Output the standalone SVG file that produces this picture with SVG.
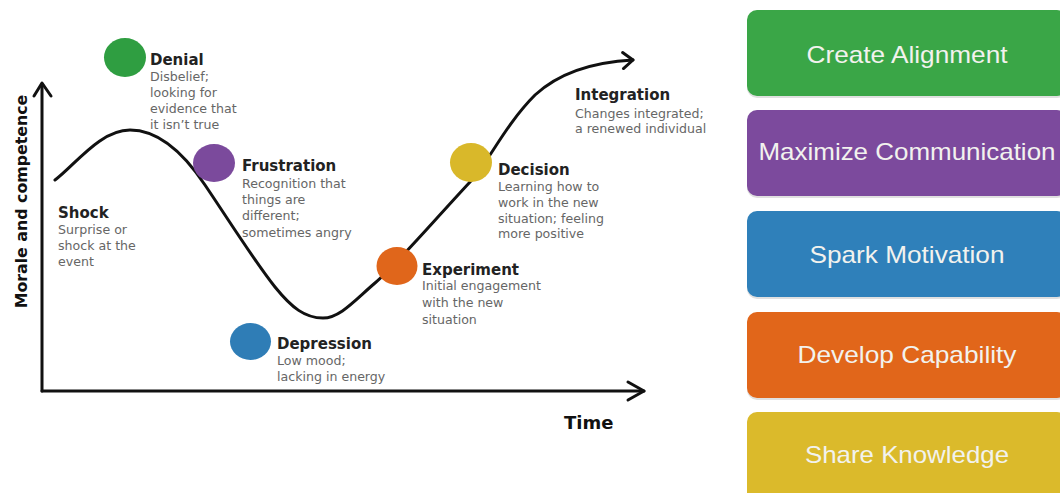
<svg xmlns="http://www.w3.org/2000/svg" width="1060" height="493" viewBox="0 0 1060 493">
<defs>
<style>
.title{font-family:"DejaVu Sans",sans-serif;font-weight:bold;font-size:15px;fill:#222}
.desc{font-family:"DejaVu Sans",sans-serif;font-size:12.6px;fill:#666}
.axislbl{font-family:"DejaVu Sans",sans-serif;font-weight:bold;fill:#111}
.line{fill:none;stroke:#111;stroke-width:3;stroke-linecap:round;stroke-linejoin:round}
.box text{font-family:"Liberation Sans",Arial,sans-serif;font-size:24px;fill:#f2f2ee;text-anchor:middle}
.shadow{fill:#000;opacity:0.12}
</style>
<marker id="chev" markerUnits="userSpaceOnUse" markerWidth="20" markerHeight="20" viewBox="0 0 20 20" refX="16" refY="10" orient="auto">
<path d="M6,2 L16,10 L6,18" fill="none" stroke="#111" stroke-width="3" stroke-linecap="round" stroke-linejoin="round"/>
</marker>
</defs>
<rect width="1060" height="493" fill="#fff"/>

<g id="axes">
<path class="line" d="M42,391 V84"/>
<path class="line" d="M34,96 L42,83 L51,96"/>
<path class="line" d="M42,391 H644"/>
<path class="line" d="M628,382 L644,391 L628,400"/>
<text class="axislbl" font-size="15.8" text-anchor="middle" transform="translate(27,201.5) rotate(-90)">Morale and competence</text>
<text class="axislbl" x="564" y="429" font-size="18">Time</text>
</g>

<g id="connectors">
<path class="line" marker-end="url(#chev)" d="M55,180 C75,165 100,130 130,130 C160,130 185,155 205,185 C230,222 255,262 275,287 C292,308 305,318 323,318 C340,318 355,300 375,283 C395,266 430,225 470,182 C488,163 505,125 535,95 C560,72 595,62 633,60"/>
</g>

<g id="shock">
<text class="title" x="58" y="218">Shock</text>
<text class="desc" x="58" y="234">Surprise or</text>
<text class="desc" x="58" y="250">shock at the</text>
<text class="desc" x="58" y="266">event</text>
</g>

<g id="denial">
<ellipse cx="125" cy="57.5" rx="21" ry="19.5" fill="#2f9e41"/>
<text class="title" x="150" y="65">Denial</text>
<text class="desc" x="150" y="81">Disbelief;</text>
<text class="desc" x="150" y="97">looking for</text>
<text class="desc" x="150" y="113">evidence that</text>
<text class="desc" x="150" y="129">it isn’t true</text>
</g>

<g id="frustration">
<ellipse cx="214" cy="163" rx="21" ry="19" fill="#7b4a9c"/>
<text class="title" x="242" y="171">Frustration</text>
<text class="desc" x="242" y="188">Recognition that</text>
<text class="desc" x="242" y="204">things are</text>
<text class="desc" x="242" y="220">different;</text>
<text class="desc" x="242" y="237">sometimes angry</text>
</g>

<g id="depression">
<ellipse cx="250.5" cy="341.5" rx="20.5" ry="18.5" fill="#2f7db6"/>
<text class="title" x="277" y="349">Depression</text>
<text class="desc" x="277" y="365">Low mood;</text>
<text class="desc" x="277" y="381">lacking in energy</text>
</g>

<g id="experiment">
<ellipse cx="397" cy="266" rx="20.5" ry="19" fill="#e0661b"/>
<text class="title" x="422" y="275">Experiment</text>
<text class="desc" x="422" y="290">Initial engagement</text>
<text class="desc" x="422" y="307">with the new</text>
<text class="desc" x="422" y="324">situation</text>
</g>

<g id="decision">
<ellipse cx="471" cy="162.5" rx="21" ry="19.5" fill="#d9b82a"/>
<text class="title" x="498" y="175">Decision</text>
<text class="desc" x="498" y="191">Learning how to</text>
<text class="desc" x="498" y="207">work in the new</text>
<text class="desc" x="498" y="222.5">situation; feeling</text>
<text class="desc" x="498" y="238">more positive</text>
</g>

<g id="integration">
<text class="title" x="575" y="100">Integration</text>
<text class="desc" x="575" y="117.5">Changes integrated;</text>
<text class="desc" x="575" y="133">a renewed individual</text>
</g>

<g id="box-alignment" class="box">
<rect class="shadow" x="747" y="12" width="320" height="86" rx="10"/>
<rect x="747" y="10" width="320" height="86" rx="10" fill="#3aa647"/>
<text x="907" y="63" textLength="201" lengthAdjust="spacingAndGlyphs">Create Alignment</text>
</g>
<g id="box-communication" class="box">
<rect class="shadow" x="747" y="112" width="320" height="86" rx="10"/>
<rect x="747" y="110" width="320" height="86" rx="10" fill="#7c4a9d"/>
<text x="907" y="160" textLength="297" lengthAdjust="spacingAndGlyphs">Maximize Communication</text>
</g>
<g id="box-motivation" class="box">
<rect class="shadow" x="747" y="213" width="320" height="86" rx="10"/>
<rect x="747" y="211" width="320" height="86" rx="10" fill="#2f80ba"/>
<text x="907" y="263" textLength="195" lengthAdjust="spacingAndGlyphs">Spark Motivation</text>
</g>
<g id="box-capability" class="box">
<rect class="shadow" x="747" y="314" width="320" height="86" rx="10"/>
<rect x="747" y="312" width="320" height="86" rx="10" fill="#e1661a"/>
<text x="907" y="363" textLength="219" lengthAdjust="spacingAndGlyphs">Develop Capability</text>
</g>
<g id="box-knowledge" class="box">
<rect class="shadow" x="747" y="414" width="320" height="90" rx="10"/>
<rect x="747" y="412" width="320" height="90" rx="10" fill="#dbba2b"/>
<text x="907" y="463" textLength="204" lengthAdjust="spacingAndGlyphs">Share Knowledge</text>
</g>
</svg>
